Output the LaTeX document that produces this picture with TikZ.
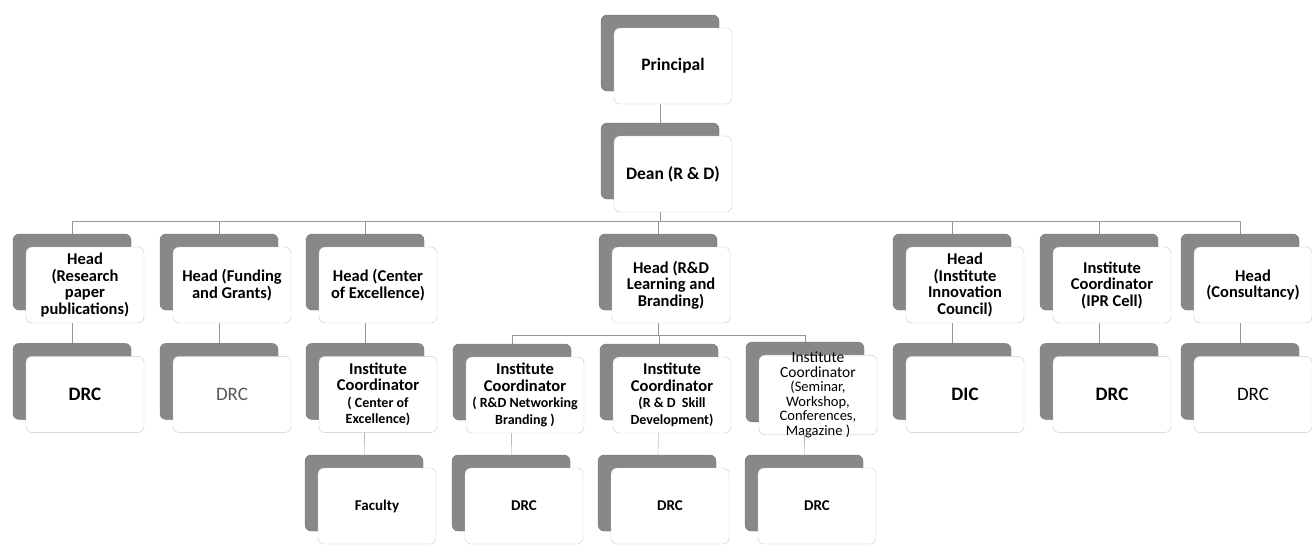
\documentclass[tikz,border=0pt]{standalone}
\usepackage{fontspec}
\setmainfont{Carlito}
\usepackage{xcolor}
\usepackage{tikz}
\usetikzlibrary{positioning,shadows,backgrounds}
\definecolor{backgray}{RGB}{136,136,136}
\definecolor{boxline}{RGB}{200,200,200}
\definecolor{linkgray}{RGB}{150,150,150}
\newcommand{\smallsize}{\fontsize{14}{13.5}\selectfont}
\newcommand{\semsize}{\fontsize{14.5}{12.5}\selectfont}

\begin{document}
\begin{tikzpicture}[x=1pt, y=-1pt, box/.style={draw=boxline, fill=white, rounded corners=6pt, minimum width=118pt, minimum height=76pt, inner sep=1pt, align=center, font=\bfseries\fontsize{16.5}{16.5}\selectfont, copy shadow={shadow xshift=-13pt, shadow yshift=13pt, fill=backgray, draw=backgray!85!black}}, bigtxt/.style={font=\bfseries\fontsize{19}{19}\selectfont}, lowtxt/.style={font=\bfseries\fontsize{15}{15}\selectfont}, link/.style={draw=linkgray, thin}]
		\useasboundingbox (0,0) rectangle (1312,544);
		\node[box, font=\bfseries\fontsize{17.5}{17.5}\selectfont] (prin) at (673,66) {Principal};
		\node[box, font=\bfseries\fontsize{17.5}{17.5}\selectfont] (dean) at (673,174) {Dean (R \& D)};
		% heads
		\node[box] (rp) at (85,285) {Head\\(Research\\paper\\publications)};
		\node[box] (fg) at (232,285) {Head (Funding\\and Grants)};
		\node[box] (ce) at (378,285) {Head (Center\\of Excellence)};
		\node[box] (lb) at (671,285) {Head (R\&D\\Learning and\\Branding)};
		\node[box] (iic) at (965,285) {Head\\(Institute\\Innovation\\Council)};
		\node[box] (ipr) at (1112,285) {Institute\\Coordinator\\(IPR Cell)};
		\node[box] (cons) at (1253,285) {Head\\(Consultancy)};
		% second row
		\node[box, bigtxt, below=33pt of rp] (rpd) {DRC};
		\node[box, below=33pt of fg, font=\mdseries\fontsize{19}{19}\selectfont, text=black!65] (fgd) {DRC};
		\node[box, below=33pt of ce] (ceic) {Institute\\Coordinator\\\smallsize ( Center of\\\smallsize Excellence)};
		\node[box] (nb) at (525,395) {Institute\\Coordinator\\\smallsize ( R\&D Networking\\\smallsize Branding )};
		\node[box] (sd) at (672,395) {Institute\\Coordinator\\\smallsize (R \& D~~Skill\\\smallsize Development)};
		\node[box, inner ysep=-3pt, font=\fontsize{15.5}{14.5}\selectfont] (sem) at (818,395) {Institute\\Coordinator\\\semsize (Seminar,\\\semsize Workshop,\\\semsize Conferences,\\\semsize Magazine )};
		\node[box, bigtxt, below=33pt of iic] (dic) {DIC};
		\node[box, bigtxt, below=33pt of ipr] (iprd) {DRC};
		\node[box, below=33pt of cons, font=\fontsize{19}{19}\selectfont] (consd) {DRC};
		% third row
		\node[box, lowtxt] (fac) at (377,506) {Faculty};
		\node[box, lowtxt] (nbd) at (524,506) {DRC};
		\node[box, lowtxt] (sdd) at (670,506) {DRC};
		\node[box, lowtxt] (semd) at (817,506) {DRC};
		% connectors
		\begin{scope}[on background layer]
			\draw[link] ([xshift=-13pt]prin.center) -- ([xshift=-13pt]dean.center);
			\foreach \c in {rp,fg,ce,lb,iic,ipr,cons}
				\draw[link] ([xshift=-13pt]dean.center) -- ++(0,47) -| ([xshift=-13pt]\c.center);
			\foreach \c in {nb,sd,sem}
				\draw[link] ([xshift=-13pt]lb.center) -- ++(0,50) -| ([xshift=-13pt]\c.center);
			\foreach \a/\b in {rp/rpd,fg/fgd,ce/ceic,ceic/fac,nb/nbd,sd/sdd,sem/semd,iic/dic,ipr/iprd,cons/consd}
				\draw[link] ([xshift=-13pt]\a.center) -- ([xshift=-13pt]\b.center);
		\end{scope}
	\end{tikzpicture}
\end{document}
